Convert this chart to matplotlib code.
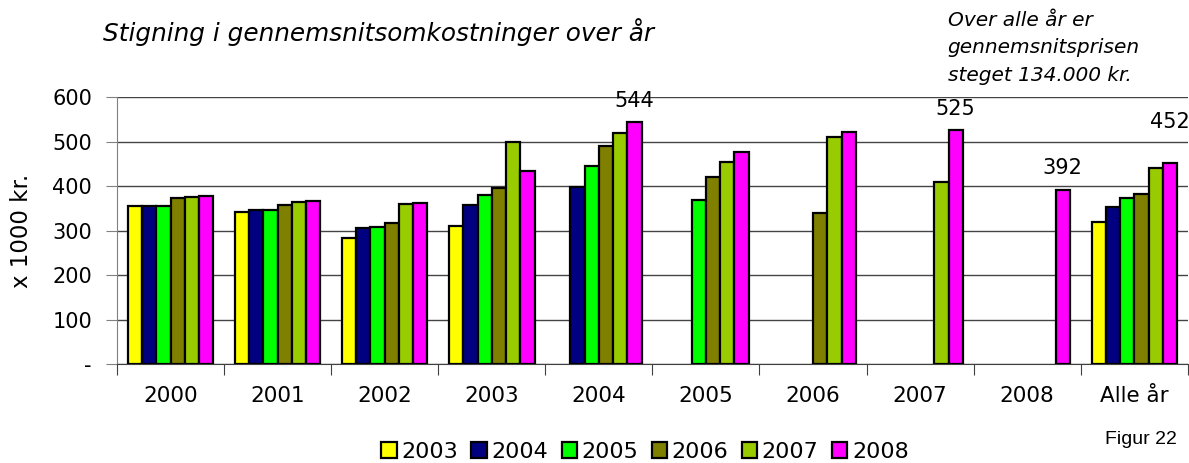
import numpy as np
import matplotlib.pyplot as plt

categories = ['2000', '2001', '2002', '2003', '2004', '2005', '2006', '2007', '2008', 'Alle år']
series_names = ['2003', '2004', '2005', '2006', '2007', '2008']
nan = np.nan
v2003 = [356, 342, 284, 310, nan, nan, nan, nan, nan, 318]
v2004 = [354, 347, 305, 357, 397, nan, nan, nan, nan, 352]
v2005 = [354, 347, 308, 379, 445, 368, nan, nan, nan, 374]
v2006 = [374, 357, 316, 396, 490, 421, 339, nan, nan, 383]
v2007 = [375, 363, 359, 500, 518, 454, 509, 409, nan, 441]
v2008 = [377, 366, 362, 433, 544, 476, 521, 525, 392, 452]
labelled = ['2004', '2007', '2008', 'Alle år']  # categories with value label on 2008 bar

colors = ['#FFFF00', '#000080', '#00FF00', '#808000', '#99CC00', '#FF00FF']
series = [v2003, v2004, v2005, v2006, v2007, v2008]

plt.rcParams['font.family'] = ['DejaVu Sans']
fig = plt.figure(figsize=(11.89, 4.63), dpi=100)
ax = fig.add_axes([0.0984, 0.2138, 0.9006, 0.5767])

x = np.arange(len(categories))
w = 0.133
handles = []
for i, (vals, c, name) in enumerate(zip(series, colors, series_names)):
    b = ax.bar(x + (i - 2.5) * w, vals, w, color=c, edgecolor='black', linewidth=1.6,
               label=name, zorder=3)
    handles.append(b)

# label offsets (points) as placed in the original
label_offsets = {'2004': 8, '2007': 8, '2008': 8, 'Alle år': 22}
for cat in labelled:
    j = categories.index(cat)
    ax.annotate(f'{v2008[j]:.0f}', (x[j] + 2.5 * w, v2008[j]), xytext=(0, label_offsets[cat]),
                textcoords='offset points', ha='center', va='bottom', fontsize=15,
                annotation_clip=False)

ax.set_xlim(-0.5, len(categories) - 0.5)
ax.set_ylim(0, 600)
ax.set_yticks(range(0, 700, 100))
ax.set_yticklabels(['-'] + [str(v) for v in range(100, 700, 100)], fontsize=15)
ax.yaxis.grid(True, color='#444444', linewidth=1.0, zorder=0)
ax.tick_params(axis='y', length=8, color='#808080', pad=10)

ax.set_xticks(np.arange(-0.5, len(categories)), minor=False)
ax.set_xticklabels([])
ax.set_xticks(x, minor=True)
ax.set_xticklabels(categories, minor=True, fontsize=15.5)
ax.tick_params(axis='x', which='major', length=8, color='#404040')
ax.tick_params(axis='x', which='minor', length=0, pad=16)

for s in ['top', 'right']:
    ax.spines[s].set_visible(False)
ax.spines['left'].set_color('#808080')
ax.spines['bottom'].set_color('#404040')

ax.set_ylabel('x 1000 kr.', fontsize=16.5, labelpad=14)

fig.text(0.0866, 0.93, 'Stigning i gennemsnitsomkostninger over år', fontsize=17.8,
         style='italic', va='center')
fig.text(0.797, 0.955, 'Over alle år er', fontsize=14.5, style='italic', va='center')
fig.text(0.797, 0.897, 'gennemsnitsprisen', fontsize=14.5, style='italic', va='center')
fig.text(0.797, 0.837, 'steget 134.000 kr.', fontsize=14.5, style='italic', va='center')
fig.text(0.929, 0.05, 'Figur 22', fontsize=14, va='center', family=['Liberation Sans'])

fig.legend(handles=handles, loc='center', bbox_to_anchor=(0.5425, 0.024), ncol=6,
           frameon=False, fontsize=16, handlelength=0.7, handleheight=0.7,
           handletextpad=0.2, columnspacing=0.6, borderpad=0)

fig.savefig('out.png', dpi=100)
